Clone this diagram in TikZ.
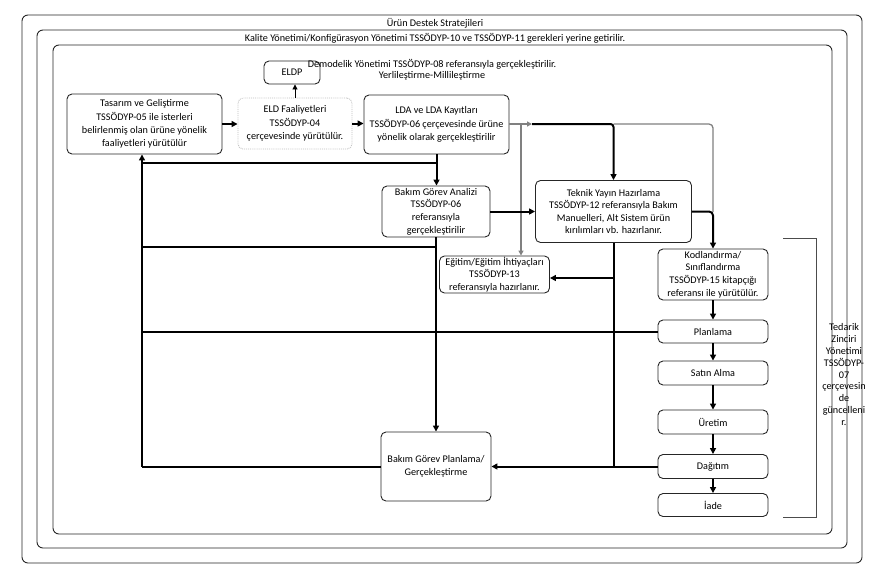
\documentclass[tikz,border=0pt]{standalone}
\usepackage{fontspec}
\setmainfont{Carlito}
\usetikzlibrary{arrows.meta}
\begin{document}
\begin{tikzpicture}[x=1pt,y=-1pt,
  frame/.style={draw=black!85, line width=0.9pt, rounded corners=6pt},
  box/.style={draw=black!85, line width=0.9pt, rounded corners=5pt, align=center, inner sep=0pt, font=\fontsize{10.2}{13.3}\selectfont},
  tight/.style={font=\fontsize{10.2}{12.6}\selectfont},
  lbl/.style={inner sep=0pt, align=center, font=\fontsize{10.2}{12}\selectfont},
  thk/.style={line width=2pt, draw=black},
  tip/.style={-{Triangle[length=6pt,width=6pt]}},
  tipg/.style={-{Triangle[length=5pt,width=5pt]}},
  gry/.style={line width=1.3pt, draw=black!50},
  brk/.style={line width=0.9pt, draw=black!70}
]
\useasboundingbox (0,0) rectangle (870,571);
% frames
\draw[frame] (22,15) rectangle (862,563);
\draw[frame] (37,30) rectangle (847,548);
\draw[frame] (53,45) rectangle (832,534);
\node[lbl] (t1) at (435,23) {Ürün Destek Stratejileri};
\node[lbl] (t2) at (435,38.5) {Kalite Yönetimi/Konfigürasyon Yönetimi TSSÖDYP-10 ve TSSÖDYP-11 gerekleri yerine getirilir.};
% boxes
\node[box, minimum width=56pt, minimum height=23pt] (eldp) at (292,72.5) {ELDP};
\node[lbl] (demo) at (432,64) {Demodelik Yönetimi TSSÖDYP-08 referansıyla gerçekleştirilir.};
\node[lbl] (yerli) at (432,76) {Yerlileştirme-Millileştirme};
\node[box, minimum width=155pt, minimum height=60pt] (tas) at (144.5,124) {Tasarım ve Geliştirme\\TSSÖDYP-05 ile isterleri\\belirlenmiş olan ürüne yönelik\\faaliyetleri yürütülür};
\node[box, draw=gray!50, densely dotted, minimum width=114pt, minimum height=51pt] (eld) at (295,123.5) {ELD Faaliyetleri\\TSSÖDYP-04\\çerçevesinde yürütülür.};
\node[box, minimum width=145pt, minimum height=59pt] (lda) at (436.5,124.5) {LDA ve LDA Kayıtları\\TSSÖDYP-06 çerçevesinde ürüne\\yönelik olarak gerçekleştirilir};
\node[box, tight, minimum width=108pt, minimum height=51pt] (bga) at (436,211.5) {Bakım Görev Analizi\\TSSÖDYP-06\\referansıyla\\gerçekleştirilir};
\node[box, tight, minimum width=156pt, minimum height=62pt] (ty) at (613.5,211.5) {Teknik Yayın Hazırlama\\TSSÖDYP-12 referansıyla Bakım\\Manuelleri, Alt Sistem ürün\\kırılımları vb. hazırlanır.};
\node[box, tight, minimum width=110pt, minimum height=37pt] (egt) at (494.5,274.5) {Eğitim/Eğitim İhtiyaçları\\TSSÖDYP-13\\referansıyla hazırlanır.};
\node[box, tight, minimum width=110pt, minimum height=51pt] (kod) at (713,274.5) {Kodlandırma/\\Sınıflandırma\\TSSÖDYP-15 kitapçığı\\referansı ile yürütülür.};
\node[box, minimum width=110pt, minimum height=23pt] (plan) at (713,331.5) {Planlama};
\node[box, minimum width=110pt, minimum height=24pt] (satin) at (713,373) {Satın Alma};
\node[box, minimum width=110pt, minimum height=24pt] (uretim) at (713,422) {Üretim};
\node[box, minimum width=110pt, minimum height=24pt] (dagitim) at (713,466.5) {Dağıtım};
\node[box, minimum width=110pt, minimum height=23pt] (iade) at (713,505) {İade};
\node[box, minimum width=110pt, minimum height=69pt] (bgp) at (436,466.5) {Bakım Görev Planlama/\\Gerçekleştirme};
\node[lbl, font=\fontsize{10.2}{11.8}\selectfont] (ted) at (844,374.5) {Tedarik\\Zinciri\\Yönetimi\\TSSÖDYP-\\07\\çerçevesin\\de\\güncelleni\\r.};
% bracket
\draw[brk] (783,238) -- (816,238) -- (816,517) -- (783,517);
% connectors
\coordinate (j1) at (532,124);
\coordinate (j2) at (613.5,124);
\coordinate (jv) at (521,124);
\coordinate (l1) at (142,163);
\draw[thk,tip] (tas.east) -- (eld.west |- tas.east);
\draw[thk,tip] (eld.east) -- (lda.west |- eld.east);
\draw[line width=0.9pt,tipg] (eld.north) -- (eld.north |- eldp.south);
\draw[gry,tipg] (lda.east |- j1) -- (j1);
\draw[gry,tipg] (jv) -- (jv |- egt.north);
\draw[gry, rounded corners=4pt] (j2) -- (713,124) -- (713,212);
\draw[thk,tip, rounded corners=3pt] (j1) -- (j2) -- (ty.north);
\draw[thk,tip, rounded corners=4pt] (ty.east) -- (ty.east -| kod.north) -- (kod.north);
\draw[thk,tip] (bga.east) -- (ty.west |- bga.east);
\draw[thk,tip] (lda.south |- lda.south) -- (lda.south |- bga.north);
\draw[thk,tip] (lda.south |- l1) -- (l1) -- (l1 |- tas.south);
\draw[thk] (l1) -- (l1 |- bgp.west);
\draw[thk] (bga.south |- 0,247) -- (l1 |- 0,247);
\draw[thk,tip] (bga.south) -- (bga.south |- bgp.north);
\draw[thk] (plan.west) -- (plan.west -| l1);
\draw[thk] (bgp.west) -- (bgp.west -| l1);
\draw[thk] (ty.south) -- (ty.south |- dagitim.west);
\draw[thk,tip] (ty.south |- 0,278) -- (egt.east |- 0,278);
\draw[thk,tip] (dagitim.west) -- (bgp.east);
\draw[thk,tip] (kod.south) -- (plan.north);
\draw[thk,tip] (plan.south) -- (satin.north);
\draw[thk,tip] (satin.south) -- (uretim.north);
\draw[thk,tip] (uretim.south) -- (dagitim.north);
\draw[thk,tip] (dagitim.south) -- (iade.north);
\end{tikzpicture}
\end{document}
